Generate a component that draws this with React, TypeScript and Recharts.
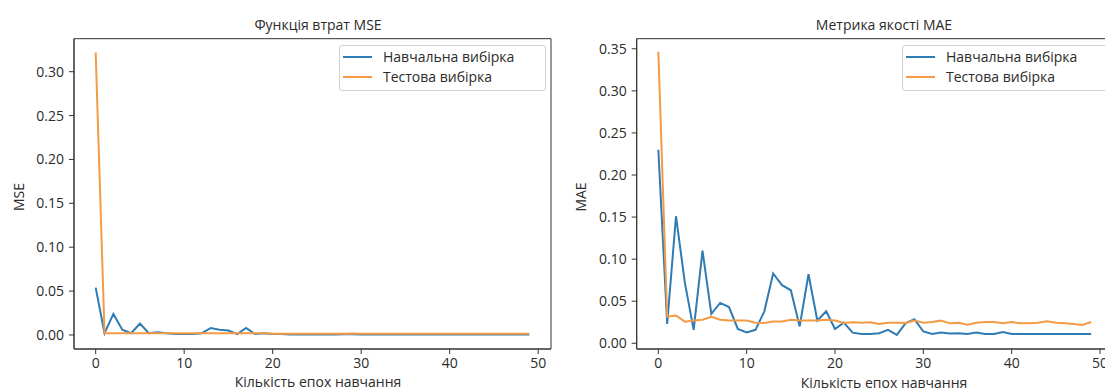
import React from 'react';
import { LineChart, Line, XAxis, YAxis, ReferenceArea, Legend } from 'recharts';

const epochs = [0,1,2,3,4,5,6,7,8,9,10,11,12,13,14,15,16,17,18,19,20,21,22,23,24,25,26,27,28,29,30,31,32,33,34,35,36,37,38,39,40,41,42,43,44,45,46,47,48,49];

const mseTrain = [0.054,0.002,0.024,0.006,0.002,0.013,0.002,0.003,0.002,0.001,0.001,0.001,0.002,0.008,0.006,0.005,0.001,0.008,0.001,0.002,0.001,0.001,0.0005,0.0005,0.0005,0.0005,0.0006,0.0005,0.0007,0.0009,0.0005,0.0005,0.0005,0.0005,0.0005,0.0005,0.0005,0.0005,0.0005,0.0005,0.0005,0.0005,0.0005,0.0005,0.0005,0.0005,0.0005,0.0005,0.0005,0.0005];
const mseTest = [0.322,0.002,0.002,0.002,0.002,0.002,0.002,0.002,0.002,0.002,0.002,0.002,0.002,0.002,0.002,0.002,0.002,0.002,0.002,0.002,0.0015,0.0015,0.0015,0.0015,0.0015,0.0015,0.0015,0.0015,0.0015,0.0018,0.0015,0.0015,0.0015,0.0015,0.0015,0.0015,0.0015,0.0015,0.0015,0.0015,0.0015,0.0015,0.0015,0.0015,0.0015,0.0015,0.0015,0.0015,0.0015,0.0015];

const maeTrain = [0.230,0.023,0.151,0.072,0.016,0.110,0.035,0.048,0.043,0.017,0.013,0.016,0.038,0.083,0.069,0.063,0.020,0.082,0.027,0.038,0.017,0.0245,0.0126,0.011,0.011,0.012,0.016,0.010,0.024,0.0285,0.014,0.011,0.0127,0.0115,0.012,0.011,0.0127,0.011,0.011,0.0135,0.011,0.011,0.011,0.011,0.011,0.011,0.011,0.011,0.011,0.011];
const maeTest = [0.3465,0.0316,0.033,0.0257,0.027,0.028,0.0316,0.028,0.027,0.027,0.027,0.0245,0.024,0.026,0.026,0.028,0.027,0.027,0.027,0.028,0.027,0.024,0.025,0.0245,0.025,0.023,0.0245,0.0245,0.024,0.0269,0.0245,0.0253,0.0269,0.0237,0.0245,0.0221,0.0245,0.0253,0.0253,0.0237,0.0253,0.0237,0.0237,0.0245,0.0261,0.0245,0.0237,0.0229,0.0217,0.0253];

const xTicks = [0, 10, 20, 30, 40, 50];
const mseTicks = [0, 0.05, 0.1, 0.15, 0.2, 0.25, 0.3];
const maeTicks = [0, 0.05, 0.1, 0.15, 0.2, 0.25, 0.3, 0.35];

const seriesNames = ['Навчальна вибірка', 'Тестова вибірка'];
const titles = ['Функція втрат MSE', 'Метрика якості MAE'];
const yLabels = ['MSE', 'MAE'];
const xLabel = 'Кількість епох навчання';

const BLUE = '#2f7bb3';
const ORANGE = '#f49a45';
const FONT = "'Open Sans', 'DejaVu Sans', sans-serif";
const TEXT = '#2b2b2b';

const mseData = epochs.map((e, i) => ({ epoch: e, train: mseTrain[i], test: mseTest[i] }));
const maeData = epochs.map((e, i) => ({ epoch: e, train: maeTrain[i], test: maeTest[i] }));

const LegendBox = (props: any) => {
  const items = [
    { name: seriesNames[0], color: BLUE },
    { name: seriesNames[1], color: ORANGE },
  ];
  return (
    <div
      style={{
        boxSizing: 'border-box',
        width: '100%',
        height: 46,
        border: '1px solid #d0d0d0',
        borderRadius: 3,
        background: 'rgba(255,255,255,0.85)',
        paddingTop: 1,
        fontFamily: FONT,
        fontSize: 14,
        color: TEXT,
      }}
    >
      {items.map((it) => (
        <div key={it.name} style={{ height: 20.6, display: 'flex', alignItems: 'center' }}>
          <div style={{ marginLeft: 3, width: 29, height: 2, background: it.color }} />
          <span style={{ marginLeft: 11, lineHeight: 1, whiteSpace: 'nowrap' }}>{it.name}</span>
        </div>
      ))}
    </div>
  );
};

type PanelProps = {
  data: any[];
  yDomain: [number, number];
  yTicks: number[];
  marginLeft: number;
  marginRight: number;
  legendLeft: number;
  legendWidth: number;
};

const Panel = ({ data, yDomain, yTicks, marginLeft, marginRight, legendLeft, legendWidth }: PanelProps) => (
  <LineChart
    width={560}
    height={392}
    data={data}
    margin={{ top: 38.7, right: marginRight, bottom: 13, left: marginLeft }}
  >
    <XAxis
      dataKey="epoch"
      type="number"
      domain={[-2.45, 51.45]}
      allowDataOverflow
      ticks={xTicks}
      height={30}
      tickSize={5}
      tickMargin={4}
      stroke="#333"
      tick={{ fill: TEXT, fontSize: 14, fontFamily: FONT }}
    />
    <YAxis
      type="number"
      domain={yDomain}
      allowDataOverflow
      ticks={yTicks}
      width={60}
      tickSize={5}
      tickMargin={5}
      stroke="#333"
      tickFormatter={(v: number) => v.toFixed(2)}
      tick={{ fill: TEXT, fontSize: 14, fontFamily: FONT }}
    />
    <ReferenceArea
      x1={-2.45}
      x2={51.45}
      y1={yDomain[0]}
      y2={yDomain[1]}
      fill="none"
      stroke="#333"
      strokeWidth={1}
      ifOverflow="visible"
    />
    <Line type="linear" dataKey="train" name={seriesNames[0]} stroke={BLUE} strokeWidth={2} dot={false} isAnimationActive={false} />
    <Line type="linear" dataKey="test" name={seriesNames[1]} stroke={ORANGE} strokeWidth={2} dot={false} isAnimationActive={false} />
    <Legend
      layout="vertical"
      align="center"
      verticalAlign="middle"
      content={<LegendBox />}
      wrapperStyle={{ left: legendLeft, top: 44.5, width: legendWidth, height: 46 }}
    />
  </LineChart>
);

const Overlay = ({ x, y, text, rotate }: { x: number; y: number; text: string; rotate?: boolean }) => (
  <div
    style={{
      position: 'absolute',
      left: x,
      top: y,
      transform: `translate(-50%, -50%)${rotate ? ' rotate(-90deg)' : ''}`,
      fontFamily: FONT,
      fontSize: 14,
      color: TEXT,
      whiteSpace: 'nowrap',
      lineHeight: 1,
    }}
  >
    {text}
  </div>
);

export default function App() {
  return (
    <div
      style={{
        position: 'absolute',
        left: 0,
        top: 0,
        width: 1105,
        height: 392,
        overflow: 'hidden',
        background: '#fff',
      }}
    >
      <div style={{ position: 'absolute', left: 0, top: 0 }}>
        <Panel
          data={mseData}
          yDomain={[-0.016, 0.3376]}
          yTicks={mseTicks}
          marginLeft={14}
          marginRight={9}
          legendLeft={339}
          legendWidth={207}
        />
      </div>
      <div style={{ position: 'absolute', left: 560, top: 0 }}>
        <Panel
          data={maeData}
          yDomain={[-0.0068, 0.362]}
          yTicks={maeTicks}
          marginLeft={16.7}
          marginRight={7.2}
          legendLeft={342}
          legendWidth={206}
        />
      </div>
      <Overlay x={318} y={25} text={titles[0]} />
      <Overlay x={884} y={25} text={titles[1]} />
      <Overlay x={18.6} y={197} text={yLabels[0]} rotate />
      <Overlay x={580.7} y={197} text={yLabels[1]} rotate />
      <Overlay x={318} y={382} text={xLabel} />
      <Overlay x={884} y={382.5} text={xLabel} />
    </div>
  );
}
